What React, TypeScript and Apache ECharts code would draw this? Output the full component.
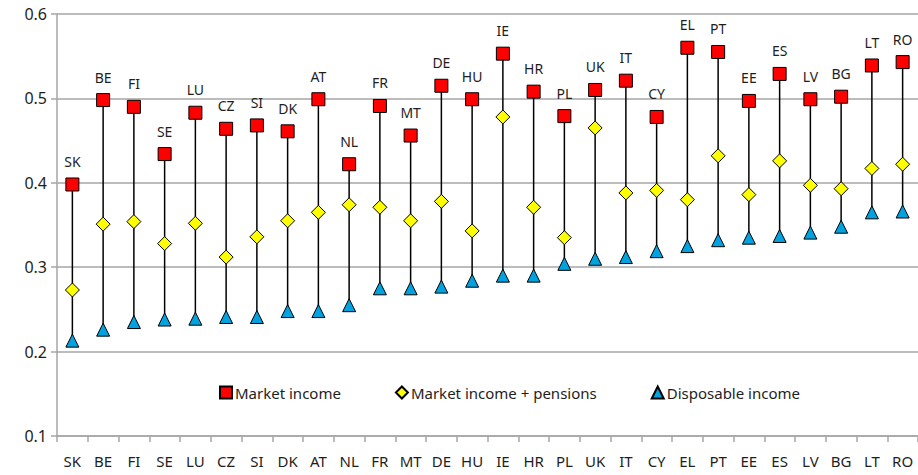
import React, { useEffect, useRef } from "react";
import * as echarts from "echarts";

const countries = ["SK","BE","FI","SE","LU","CZ","SI","DK","AT","NL","FR","MT","DE","HU","IE","HR","PL","UK","IT","CY","EL","PT","EE","ES","LV","BG","LT","RO"];
const marketIncome = [0.398,0.498,0.490,0.434,0.483,0.464,0.468,0.461,0.499,0.422,0.491,0.456,0.515,0.499,0.553,0.508,0.479,0.510,0.521,0.478,0.560,0.555,0.497,0.529,0.499,0.502,0.539,0.543];
const marketPlusPensions = [0.273,0.351,0.354,0.328,0.352,0.312,0.336,0.355,0.365,0.374,0.371,0.355,0.378,0.343,0.478,0.371,0.335,0.465,0.388,0.391,0.380,0.432,0.386,0.426,0.397,0.393,0.417,0.422];
const disposableIncome = [0.213,0.226,0.235,0.238,0.239,0.241,0.241,0.248,0.248,0.255,0.275,0.275,0.277,0.284,0.290,0.290,0.304,0.310,0.312,0.319,0.325,0.332,0.335,0.337,0.341,0.348,0.365,0.366];
const yTicks = [0.1, 0.2, 0.3, 0.4, 0.5, 0.6];

const FONT = "'Noto Sans', 'Open Sans', sans-serif";
const TEXT = "#1e1e1e";

export default function App() {
  const ref = useRef<HTMLDivElement>(null);
  useEffect(() => {
    if (!ref.current) return;
    const chart = echarts.init(ref.current, undefined, { renderer: "svg" });
    const rangeData = countries.map((c, i) => [
      i,
      Math.min(marketIncome[i], marketPlusPensions[i], disposableIncome[i]),
      Math.max(marketIncome[i], marketPlusPensions[i], disposableIncome[i]),
    ]);
    chart.setOption({
      animation: false,
      textStyle: { fontFamily: FONT },
      grid: { left: 57, top: 14, width: 865, bottom: 39, containLabel: false },
      legend: {
        left: 214,
        top: 380,
        itemWidth: 12,
        itemHeight: 12,
        itemGap: 54,
        textStyle: { fontFamily: FONT, fontSize: 15, color: TEXT, padding: [0, 0, 0, -2] },
        data: [
          { name: "Market income", icon: "rect" },
          { name: "Market income + pensions", icon: "diamond" },
          { name: "Disposable income", icon: "triangle" },
        ],
      },
      xAxis: {
        type: "category",
        data: countries,
        boundaryGap: true,
        axisLine: { show: true, lineStyle: { color: "#a6a6a6", width: 1.5 } },
        axisTick: { show: true, alignWithLabel: false, length: 6, lineStyle: { color: "#a6a6a6", width: 1.5 } },
        axisLabel: { fontFamily: FONT, fontSize: 15, color: TEXT, margin: 17 },
      },
      yAxis: {
        type: "value",
        min: yTicks[0],
        max: yTicks[yTicks.length - 1],
        interval: 0.1,
        axisLine: { show: true, lineStyle: { color: "#a6a6a6", width: 1.5 } },
        axisTick: { show: true, length: 6, lineStyle: { color: "#a6a6a6", width: 1.5 } },
        axisLabel: { fontFamily: FONT, fontSize: 16, color: TEXT, margin: 10, formatter: (v: number) => v.toFixed(1) },
        splitLine: { show: true, lineStyle: { color: "#a6a6a6", width: 1.5 } },
      },
      series: [
        {
          type: "custom",
          name: "range",
          z: 2,
          silent: true,
          data: rangeData,
          renderItem: (params: any, api: any) => {
            const p1 = api.coord([api.value(0), api.value(1)]);
            const p2 = api.coord([api.value(0), api.value(2)]);
            return {
              type: "line",
              shape: { x1: p1[0], y1: p1[1] - 4, x2: p2[0], y2: p2[1] + 6 },
              style: { stroke: "#000", lineWidth: 1.5 },
            };
          },
        },
        {
          type: "scatter",
          name: "Market income",
          z: 6,
          symbol: "rect",
          symbolSize: 13,
          data: marketIncome,
          itemStyle: { color: "#ff0000", borderColor: "#000", borderWidth: 1, opacity: 1 },
          label: {
            show: true,
            position: "top",
            distance: 9,
            formatter: (p: any) => countries[p.dataIndex],
            fontFamily: FONT,
            fontSize: 14,
            color: TEXT,
          },
        },
        {
          type: "scatter",
          name: "Market income + pensions",
          z: 6,
          symbol: "diamond",
          symbolSize: 14,
          data: marketPlusPensions,
          itemStyle: { color: "#ffff00", borderColor: "#000", borderWidth: 1, opacity: 1 },
        },
        {
          type: "scatter",
          name: "Disposable income",
          z: 6,
          symbol: "triangle",
          symbolSize: 13,
          data: disposableIncome,
          itemStyle: { color: "#00a2e0", borderColor: "#000", borderWidth: 1, opacity: 1 },
        },
      ],
    });
    return () => chart.dispose();
  }, []);
  return <div ref={ref} style={{ width: 918, height: 475, position: "fixed", left: 0, top: 0, background: "#fff" }} />;
}
